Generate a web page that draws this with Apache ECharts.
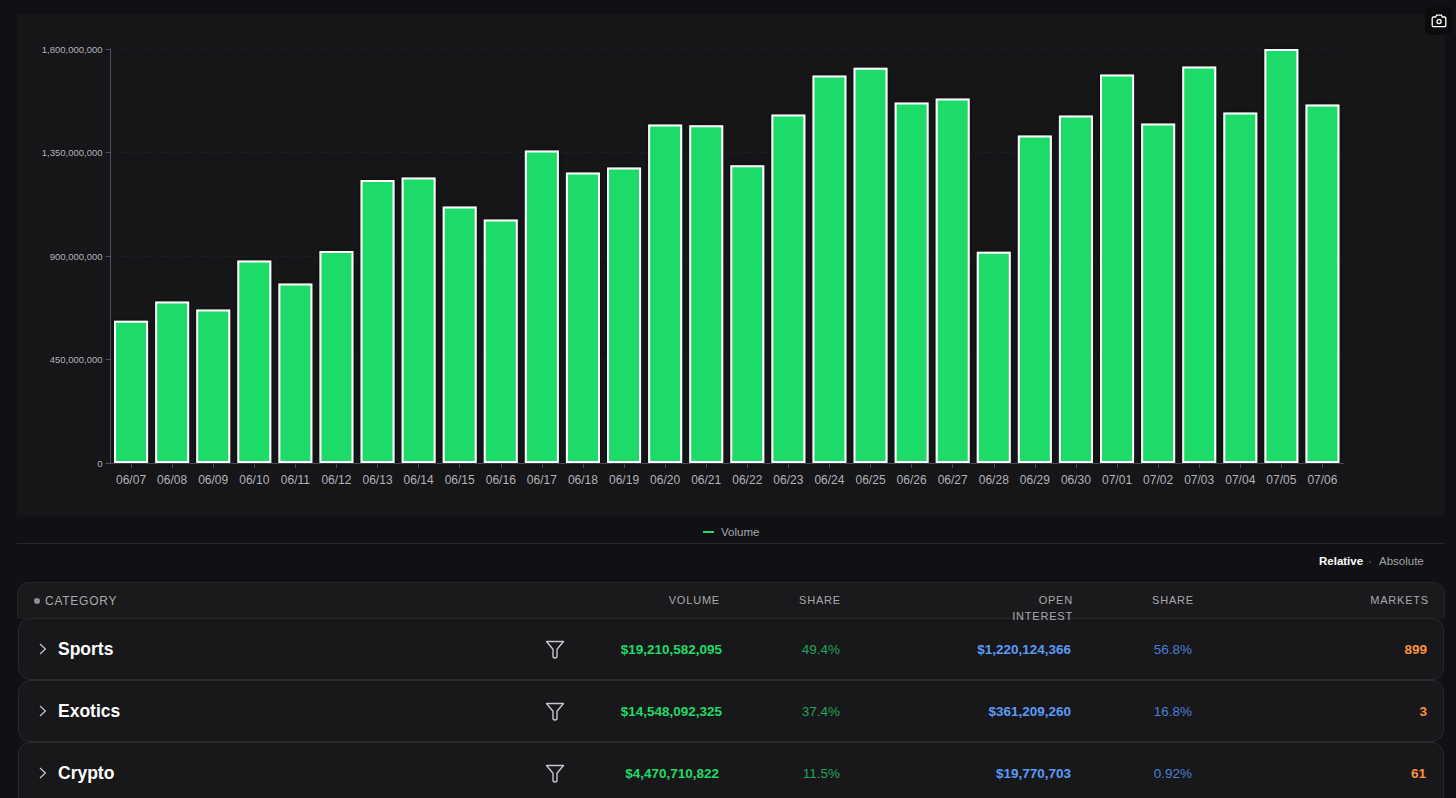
<!DOCTYPE html>
<html><head><meta charset="utf-8">
<script src="https://cdn.jsdelivr.net/npm/echarts@6/dist/echarts.min.js"></script>
<style>
html,body{margin:0;padding:0;width:1456px;height:798px;overflow:hidden;background:#111115;font-family:"Liberation Sans",Arial,sans-serif}
#panel{position:absolute;left:17px;top:14px;width:1428px;height:502px;background:#161618}
#chart{position:absolute;left:0;top:0;width:1456px;height:798px}
.abs{position:absolute;white-space:nowrap;line-height:1}
#cam{left:1425px;top:7px;width:27px;height:28px;background:#0c0c0e;border-radius:5px}
#divider{left:17px;top:543px;width:1428px;height:1px;background:#27272b}
#head{left:17px;top:582px;width:1428px;height:37px;background:#1a1a1c;border:1px solid #262629;border-bottom:0;border-radius:12px 12px 0 0;box-sizing:border-box}
.row{position:absolute;left:18px;width:1426px;background:#18181b;border:1px solid #2a2a2d;border-radius:12px;box-sizing:border-box}
.h{color:#a9a9ad;font-size:12px;letter-spacing:.75px}
.h2{color:#a9a9ad;font-size:11px;letter-spacing:.8px}
.name{color:#fff;font-size:17.5px;font-weight:700}
.v{font-size:13.5px;font-weight:700}
.s{font-size:13.5px}
svg.ic{position:absolute;fill:none}
</style></head><body>
<div id="panel"></div>
<div id="chart"></div>
<div id="table"></div>
<script>
const dates=["06/07","06/08","06/09","06/10","06/11","06/12","06/13","06/14","06/15","06/16","06/17","06/18","06/19","06/20","06/21","06/22","06/23","06/24","06/25","06/26","06/27","06/28","06/29","06/30","07/01","07/02","07/03","07/04","07/05","07/06"];
const volume=[619e6,702e6,667e6,880e6,780e6,922e6,1230e6,1241e6,1115e6,1059e6,1359e6,1263e6,1285e6,1472e6,1469e6,1295e6,1515e6,1685e6,1719e6,1567e6,1585e6,919e6,1424e6,1511e6,1689e6,1476e6,1724e6,1524e6,1800e6,1559e6];
const categories=["Sports","Exotics","Crypto"];
const catVolume=["$19,210,582,095","$14,548,092,325","$4,470,710,822"];
const catVolShare=["49.4%","37.4%","11.5%"];
const catOI=["$1,220,124,366","$361,209,260","$19,770,703"];
const catOIShare=["56.8%","16.8%","0.92%"];
const catMarkets=["899","3","61"];

const chart=echarts.init(document.getElementById('chart'),null,{renderer:'svg',width:1456,height:798});
const axisCol='#4a5060', labelCol='#b0b3ba';
chart.setOption({
  animation:false,
  backgroundColor:'transparent',
  textStyle:{fontFamily:'"Liberation Sans",Arial,sans-serif'},
  grid:{left:110.5,right:113,top:49,bottom:335,containLabel:false},
  legend:{show:true,padding:0,data:[{name:'Volume',icon:'rect',itemStyle:{color:'#1fdb68',borderWidth:0}}],left:703,top:526,itemWidth:11,itemHeight:2,itemGap:7,
    textStyle:{color:'#a6a6aa',fontSize:11.5,padding:[0,0,0,2]}},
  xAxis:{type:'category',data:dates,
    axisLine:{lineStyle:{color:axisCol,width:1}},
    axisTick:{show:true,length:5,alignWithLabel:true,lineStyle:{color:axisCol}},
    axisLabel:{color:labelCol,fontSize:12,margin:11,interval:0}},
  yAxis:{type:'value',min:0,max:1800000000,interval:450000000,
    axisLine:{show:true,lineStyle:{color:axisCol,width:1}},
    axisTick:{show:true,length:5,lineStyle:{color:axisCol}},
    axisLabel:{color:labelCol,fontSize:9.5,margin:8,padding:[0,0,2,0],formatter:v=>v.toLocaleString('en-US')},
    splitLine:{show:true,lineStyle:{color:'#2b2e3a',type:[1,4],width:1}}},
  series:[{name:'Volume',type:'bar',data:volume,barWidth:34,
    itemStyle:{color:'#1fdb68',borderColor:'#ffffff',borderWidth:2,shadowColor:'rgba(0,0,0,0.6)',shadowBlur:4}}]
});

const t=document.getElementById('table');
function add(cls,text,style){const d=document.createElement('div');d.className='abs '+cls;d.textContent=text;Object.assign(d.style,style||{});t.appendChild(d);return d;}
function right(cls,text,r,top,color){const s={right:(1456-r)+'px',top:top+'px'};if(color)s.color=color;return add(cls,text,s);}
function icon(x,y,w,h,inner){const s=document.createElementNS('http://www.w3.org/2000/svg','svg');s.setAttribute('class','ic');s.setAttribute('width',w);s.setAttribute('height',h);s.style.left=x+'px';s.style.top=y+'px';s.innerHTML=inner;t.appendChild(s);}

add('','').id='cam';
icon(1431,14,16,14,'<path d="M1.2 4.2 Q1.2 3 2.6 3 H4.6 L5.6 1.2 H10.4 L11.4 3 H13.4 Q14.8 3 14.8 4.2 V11.4 Q14.8 12.6 13.4 12.6 H2.6 Q1.2 12.6 1.2 11.4 Z" stroke="#fff" stroke-width="1.3"/><circle cx="8" cy="7.6" r="2.1" stroke="#fff" stroke-width="1.3"/>');
add('','').id='divider';
add('','Relative',{left:'1319px',top:'556px',fontSize:'11.5px',fontWeight:'700',color:'#fff'});
add('','Absolute',{left:'1379px',top:'556px',fontSize:'11.5px',color:'#a2a2a6'});
add('','',{left:'1369px',top:'561px',width:'2px',height:'2px',borderRadius:'50%',background:'#4a4a4e'});

add('','').id='head';
add('','',{left:'34px',top:'598px',width:'6px',height:'6px',borderRadius:'50%',background:'#8e8e92'});
add('h','CATEGORY',{left:'45px',top:'595px'});
right('h2','VOLUME',720,595);
right('h2','SHARE',841,595);
right('h2','OPEN',1073,595);
right('h2','SHARE',1194,595);
right('h2','MARKETS',1429,595);

const rowTop=[618,680,742], rowH=[62,62,70];
const volRight=[722,722,719], mktRight=[1427,1427,1426];
categories.forEach((c,i)=>{
  const d=document.createElement('div');d.className='row';d.style.top=rowTop[i]+'px';d.style.height=rowH[i]+'px';
  t.appendChild(d);
  const cy=rowTop[i]+31;
  icon(38,cy-6,10,12,'<path d="M2 1 L7.4 6 L2 11" stroke="#c8c8cc" stroke-width="1.2"/>');
  add('name',c,{left:'58px',top:(cy-8)+'px'});
  icon(545,cy-9,20,19,'<path d="M1.5 1.5 H18.5 L12 9.2 V16 Q12 18 10 18 Q8 18 8 16 V9.2 Z" stroke="#c6c6ca" stroke-width="1.4" stroke-linejoin="round"/>');
  right('v',catVolume[i],volRight[i],cy-6,'#1fdb68');
  right('s',catVolShare[i],840,cy-6,'#22a45a');
  right('v',catOI[i],1071,cy-6,'#5a9bf6');
  right('s',catOIShare[i],1192,cy-6,'#4a7fd6');
  right('v',catMarkets[i],mktRight[i],cy-6,'#fb923c');
});
right('h2','INTEREST',1073,611);
</script>
</body></html>
